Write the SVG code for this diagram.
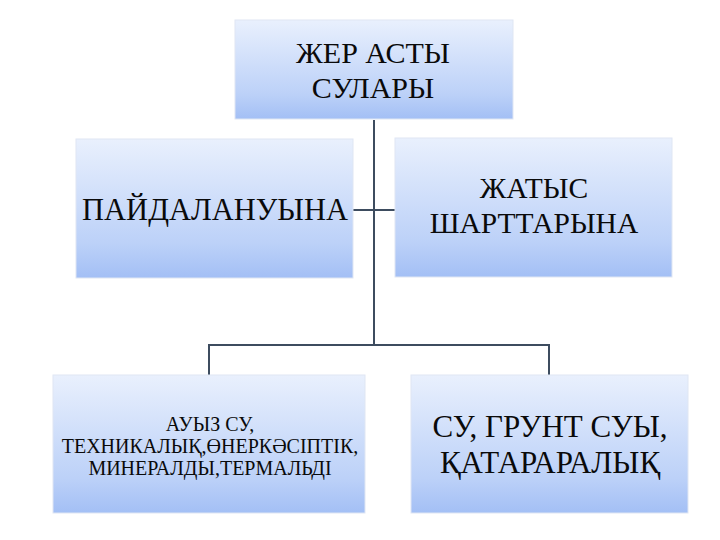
<svg xmlns="http://www.w3.org/2000/svg" width="720" height="540" viewBox="0 0 720 540">
<defs>
<linearGradient id="g" x1="0" y1="0" x2="0" y2="1">
<stop offset="0" stop-color="#e9f0fd"/>
<stop offset="0.75" stop-color="#bcd1f8"/>
<stop offset="1" stop-color="#a3bff5"/>
</linearGradient>
<style>
.box{fill:url(#g);stroke:#dfe6f3;stroke-width:1}
.c{fill:none;stroke:#3d4c5f;stroke-width:2}
</style>
</defs>
<rect width="720" height="540" fill="#fff"/>
<g id="connectors">
<path class="c" d="M374 120V345"/>
<path class="c" d="M353 210H395"/>
<path class="c" d="M209 375V345H549V375"/>
</g>
<g id="root" font-family="Liberation Serif, serif" text-anchor="middle" fill="#0a0a0a">
<rect class="box" x="235" y="20" width="278" height="99"/>
<text font-size="30" x="373" y="63">ЖЕР АСТЫ</text>
<text font-size="30" x="373" y="98">СУЛАРЫ</text>
</g>
<g id="usage" font-family="Liberation Serif, serif" text-anchor="middle" fill="#0a0a0a">
<rect class="box" x="76" y="139" width="277" height="139"/>
<text font-size="30.5" x="215" y="220">ПАЙДАЛАНУЫНА</text>
</g>
<g id="conditions" font-family="Liberation Serif, serif" text-anchor="middle" fill="#0a0a0a">
<rect class="box" x="395" y="138" width="277" height="139"/>
<text font-size="29.5" x="534" y="198">ЖАТЫС</text>
<text font-size="29.5" x="534" y="233">ШАРТТАРЫНА</text>
</g>
<g id="types" font-family="Liberation Serif, serif" text-anchor="middle" fill="#0a0a0a">
<rect class="box" x="53" y="375" width="312" height="138"/>
<text font-size="20" x="210" y="431">АУЫЗ СУ,</text>
<text font-size="20" x="210" y="453">ТЕХНИКАЛЫҚ,ӨНЕРКӘСІПТІК,</text>
<text font-size="20" x="210" y="475">МИНЕРАЛДЫ,ТЕРМАЛЬДІ</text>
</g>
<g id="kinds" font-family="Liberation Serif, serif" text-anchor="middle" fill="#0a0a0a">
<rect class="box" x="411" y="375" width="277" height="138"/>
<text font-size="31" x="550" y="437">СУ, ГРУНТ СУЫ,</text>
<text font-size="31" x="550" y="473">ҚАТАРАРАЛЫҚ</text>
</g>
</svg>
